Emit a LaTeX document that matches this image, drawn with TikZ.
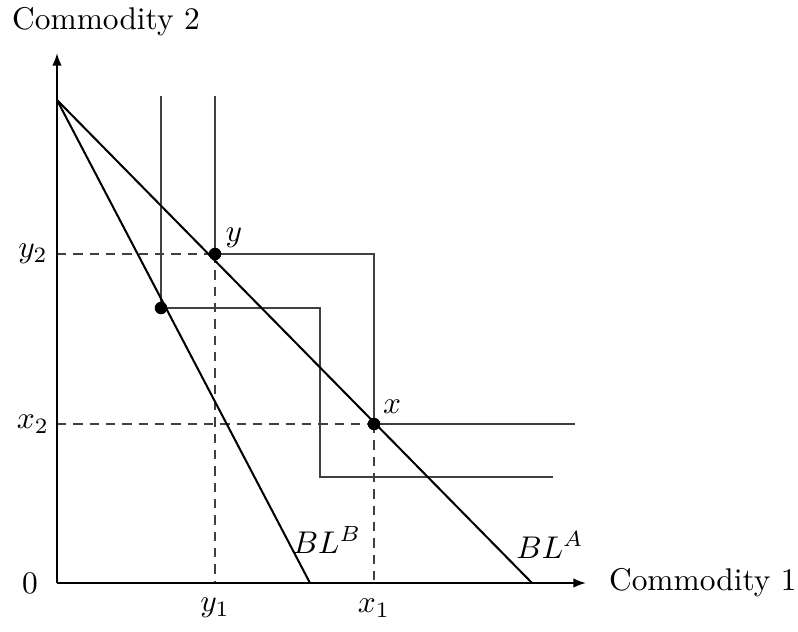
\documentclass[tikz,border=0pt]{standalone}
\usetikzlibrary{arrows.meta}
\begin{document}
\begin{tikzpicture}[x=0.3185pt,y=-0.3185pt,
  axis/.style={line width=0.6pt,-{Latex[length=4pt,width=3pt]}},
  budget/.style={line width=0.65pt,black},
  indiff/.style={line width=0.5pt,black!75},
  guide/.style={line width=0.5pt,black!75,dash pattern=on 3pt off 2.2pt},
  dot/.style={circle,fill=black,inner sep=0pt,minimum size=4pt}]
\useasboundingbox (0,0) rectangle (798,631);
% points
\coordinate (O) at (57,583);
\coordinate (top) at (57,100);
\coordinate (ya) at (57,53);
\coordinate (xa) at (586,583);
\coordinate (endA) at (532,583);
\coordinate (endB) at (310,583);
\coordinate (Y) at (215,254);
\coordinate (X) at (374,424);
\coordinate (Z) at (161,308);
\coordinate (Ytop) at (215,96);
\coordinate (Ztop) at (161,96);
\coordinate (Ycorner) at (374,254);
\coordinate (Xend) at (575,424);
\coordinate (Zcorner) at (320,308);
\coordinate (Zcorner2) at (320,477);
\coordinate (Zend) at (553,477);
\coordinate (y2a) at (57,254);
\coordinate (x2a) at (57,424);
\coordinate (y1a) at (215,583);
\coordinate (x1a) at (374,583);
% guides
\draw[guide] (y2a) -- (Y);
\draw[guide] (x2a) -- (X);
\draw[guide] (Y) -- (y1a);
\draw[guide] (X) -- (x1a);
% indifference curves
\draw[indiff] (Ytop) -- (Y) -- (Ycorner) -- (X) -- (Xend);
\draw[indiff] (Ztop) -- (Z) -- (Zcorner) -- (Zcorner2) -- (Zend);
% budget lines
\draw[budget] (top) -- (endA);
\draw[budget] (top) -- (endB);
% axes
\draw[axis] (O) -- (ya);
\draw[axis] (O) -- (xa);
% dots
\node[dot] (dY) at (Y) {};
\node[dot] (dX) at (X) {};
\node[dot] (dZ) at (Z) {};
% labels
\node (lc2) at (106,22) {Commodity 2};
\node[anchor=west] (lc1) at (598,583) {Commodity 1};
\node (l0) at (30,583) {$0$};
\node (ly2) at (33,254) {$y_2$};
\node (lx2) at (33,424) {$x_2$};
\node (ly1) at (215,608) {$y_1$};
\node (lx1) at (374,608) {$x_1$};
\node (ly) at (234,238) {$y$};
\node (lx) at (392,407) {$x$};
\node (lBLB) at (327,540) {$BL^B$};
\node (lBLA) at (550,545) {$BL^A$};
\end{tikzpicture}
\end{document}
